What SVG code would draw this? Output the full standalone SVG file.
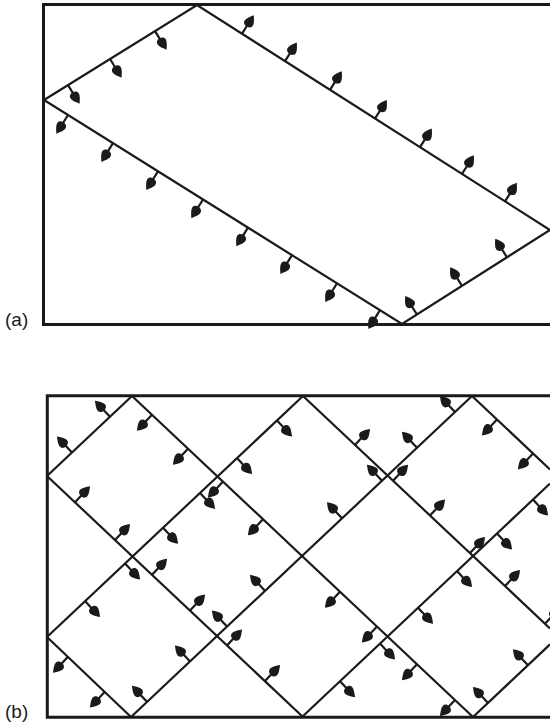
<svg xmlns="http://www.w3.org/2000/svg" xmlns:xlink="http://www.w3.org/1999/xlink" width="550" height="724" viewBox="0 0 550 724">
<style>
.bd{fill:none;stroke:#1a1a1a;stroke-width:3;stroke-linecap:square}
.ln{fill:none;stroke:#1a1a1a;stroke-width:2.2}
.lbl{font-family:"Liberation Sans",Arial,sans-serif;font-size:19px;fill:#1a1a1a}
</style>
<defs>
<g id="arr">
<path d="M0,0H10" stroke="#1a1a1a" stroke-width="2.2" fill="none"/>
<path d="M22,0C19,-2 15.5,-4.9 12.5,-4.9C10.2,-4.9 8.5,-2.8 8.5,0C8.5,2.8 10.2,4.9 12.5,4.9C15.5,4.9 19,2 22,0Z" fill="#1a1a1a"/>
</g>
</defs>
<rect width="550" height="724" fill="#fff"/>

<g id="panel-a">
<path class="bd" d="M550,4.5H43.5V324.5H550"/>
<g id="connectors-a">
<path class="ln" d="M44,100L197,5L550,230L402,324Z"/>
</g>
<g id="arrows-a">
<use xlink:href="#arr" transform="translate(68,85.1) rotate(58.2)"/>
<use xlink:href="#arr" transform="translate(110,59) rotate(58.2)"/>
<use xlink:href="#arr" transform="translate(155,31.1) rotate(58.2)"/>
<use xlink:href="#arr" transform="translate(242,33.7) rotate(-57.5)"/>
<use xlink:href="#arr" transform="translate(285,61.1) rotate(-57.5)"/>
<use xlink:href="#arr" transform="translate(330,89.8) rotate(-57.5)"/>
<use xlink:href="#arr" transform="translate(375,118.5) rotate(-57.5)"/>
<use xlink:href="#arr" transform="translate(420,147.1) rotate(-57.5)"/>
<use xlink:href="#arr" transform="translate(462,173.9) rotate(-57.5)"/>
<use xlink:href="#arr" transform="translate(505,201.3) rotate(-57.5)"/>
<use xlink:href="#arr" transform="translate(68,115) rotate(122)"/>
<use xlink:href="#arr" transform="translate(113,143.2) rotate(122)"/>
<use xlink:href="#arr" transform="translate(158,171.3) rotate(122)"/>
<use xlink:href="#arr" transform="translate(203,199.5) rotate(122)"/>
<use xlink:href="#arr" transform="translate(248,227.6) rotate(122)"/>
<use xlink:href="#arr" transform="translate(292,255.2) rotate(122)"/>
<use xlink:href="#arr" transform="translate(337,283.3) rotate(122)"/>
<use xlink:href="#arr" transform="translate(380,310.2) rotate(122)"/>
<use xlink:href="#arr" transform="translate(417,314.5) rotate(-122.4)"/>
<use xlink:href="#arr" transform="translate(462,285.9) rotate(-122.4)"/>
<use xlink:href="#arr" transform="translate(507,257.3) rotate(-122.4)"/>
</g>
<text class="lbl" x="5" y="326">(a)</text>
</g>

<g id="panel-b">
<path class="bd" d="M550,395.7H47.3V717.3H550"/>
<g id="connectors-b">
<path class="ln" d="M47,637L131,717"/>
<path class="ln" d="M47,476L303,717"/>
<path class="ln" d="M132,396L473,717"/>
<path class="ln" d="M303,396L550,628.4"/>
<path class="ln" d="M472,396L550,469.4"/>
<path class="ln" d="M132,396L47,476"/>
<path class="ln" d="M303,396L47,637"/>
<path class="ln" d="M472,396L131,717"/>
<path class="ln" d="M550,483.6L302,717"/>
<path class="ln" d="M550,644.4L473,717"/>
</g>
<g id="arrows-b">
<use xlink:href="#arr" transform="translate(110,416.7) rotate(-133.26)"/>
<use xlink:href="#arr" transform="translate(72,452.5) rotate(-133.26)"/>
<use xlink:href="#arr" transform="translate(152,414.8) rotate(133.26)"/>
<use xlink:href="#arr" transform="translate(188,448.7) rotate(133.26)"/>
<use xlink:href="#arr" transform="translate(223,481.6) rotate(133.26)"/>
<use xlink:href="#arr" transform="translate(263,519.3) rotate(133.26)"/>
<use xlink:href="#arr" transform="translate(340,591.7) rotate(133.26)"/>
<use xlink:href="#arr" transform="translate(377,626.5) rotate(133.26)"/>
<use xlink:href="#arr" transform="translate(417,664.2) rotate(133.26)"/>
<use xlink:href="#arr" transform="translate(455,700) rotate(133.26)"/>
<use xlink:href="#arr" transform="translate(277,420.5) rotate(46.74)"/>
<use xlink:href="#arr" transform="translate(237,458.1) rotate(46.74)"/>
<use xlink:href="#arr" transform="translate(200,492.9) rotate(46.74)"/>
<use xlink:href="#arr" transform="translate(163,527.7) rotate(46.74)"/>
<use xlink:href="#arr" transform="translate(125,563.5) rotate(46.74)"/>
<use xlink:href="#arr" transform="translate(85,601.1) rotate(46.74)"/>
<use xlink:href="#arr" transform="translate(75,502.3) rotate(-46.74)"/>
<use xlink:href="#arr" transform="translate(115,540) rotate(-46.74)"/>
<use xlink:href="#arr" transform="translate(152,574.8) rotate(-46.74)"/>
<use xlink:href="#arr" transform="translate(190,610.6) rotate(-46.74)"/>
<use xlink:href="#arr" transform="translate(227,645.4) rotate(-46.74)"/>
<use xlink:href="#arr" transform="translate(265,681.1) rotate(-46.74)"/>
<use xlink:href="#arr" transform="translate(68,656.8) rotate(133.26)"/>
<use xlink:href="#arr" transform="translate(105,691.6) rotate(133.26)"/>
<use xlink:href="#arr" transform="translate(455,412) rotate(-133.26)"/>
<use xlink:href="#arr" transform="translate(417,447.8) rotate(-133.26)"/>
<use xlink:href="#arr" transform="translate(382,480.7) rotate(-133.26)"/>
<use xlink:href="#arr" transform="translate(342,518.3) rotate(-133.26)"/>
<use xlink:href="#arr" transform="translate(265,590.8) rotate(-133.26)"/>
<use xlink:href="#arr" transform="translate(227,626.5) rotate(-133.26)"/>
<use xlink:href="#arr" transform="translate(190,661.4) rotate(-133.26)"/>
<use xlink:href="#arr" transform="translate(147,701.8) rotate(-133.26)"/>
<use xlink:href="#arr" transform="translate(355,444.9) rotate(-46.74)"/>
<use xlink:href="#arr" transform="translate(393,480.7) rotate(-46.74)"/>
<use xlink:href="#arr" transform="translate(430,515.5) rotate(-46.74)"/>
<use xlink:href="#arr" transform="translate(470,553.1) rotate(-46.74)"/>
<use xlink:href="#arr" transform="translate(505,586.1) rotate(-46.74)"/>
<use xlink:href="#arr" transform="translate(545,623.7) rotate(-46.74)"/>
<use xlink:href="#arr" transform="translate(497,419.5) rotate(133.26)"/>
<use xlink:href="#arr" transform="translate(533,453.4) rotate(133.26)"/>
<use xlink:href="#arr" transform="translate(533,499.6) rotate(46.74)"/>
<use xlink:href="#arr" transform="translate(497,533.5) rotate(46.74)"/>
<use xlink:href="#arr" transform="translate(457,571.1) rotate(46.74)"/>
<use xlink:href="#arr" transform="translate(418,607.8) rotate(46.74)"/>
<use xlink:href="#arr" transform="translate(380,643.6) rotate(46.74)"/>
<use xlink:href="#arr" transform="translate(340,681.2) rotate(46.74)"/>
<use xlink:href="#arr" transform="translate(528,665.2) rotate(-133.26)"/>
<use xlink:href="#arr" transform="translate(488,702.9) rotate(-133.26)"/>
</g>
<text class="lbl" x="5" y="718">(b)</text>
</g>
</svg>
